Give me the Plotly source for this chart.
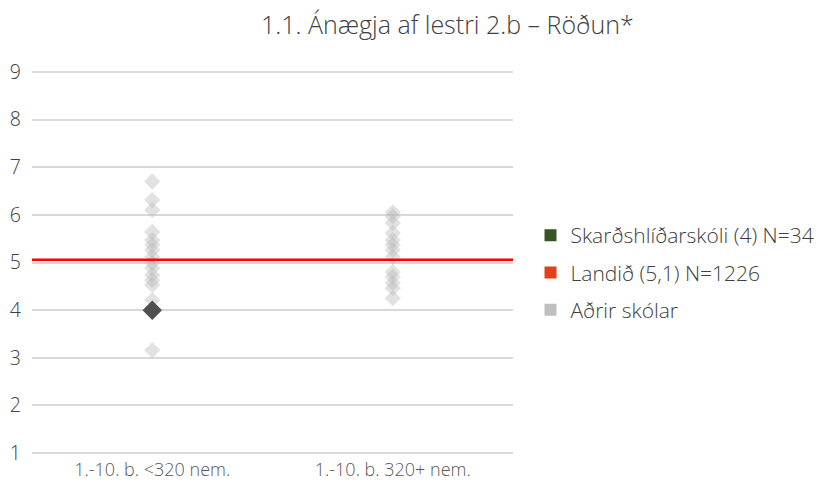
import plotly.graph_objects as go

# ---- data ----
categories = ["1.-10. b. <320 nem.", "1.-10. b. 320+ nem."]

others_small = [6.70, 6.31, 6.10, 5.64, 5.47, 5.37, 5.26, 5.12, 4.99,
                4.88, 4.74, 4.63, 4.53, 4.21, 3.16]
others_large = [6.05, 5.97, 5.83, 5.62, 5.47, 5.37, 5.26, 5.12, 4.80,
                 4.70, 4.57, 4.46, 4.25]

school_category = categories[0]
school_value = 4.0
national_value = 5.06

legend_labels = ["Skarðshlíðarskóli (4) N=34", "Landið (5,1) N=1226", "Aðrir skólar"]
legend_colors = ["#375623", "#e0401a", "#bfbfbf"]

FONT = "'Open Sans', Lato, sans-serif"

fig = go.Figure()

# other schools
fig.add_trace(
    go.Scatter(
        x=[categories[0]] * len(others_small) + [categories[1]] * len(others_large),
        y=others_small + others_large,
        mode="markers",
        marker=dict(symbol="diamond", size=12.5, color="rgba(185,185,185,0.42)", line=dict(width=0)),
        showlegend=False,
        hoverinfo="y",
    )
)

# the school itself
fig.add_trace(
    go.Scatter(
        x=[school_category],
        y=[school_value],
        mode="markers",
        marker=dict(symbol="diamond", size=15, color="#505050", line=dict(width=0)),
        showlegend=False,
    )
)

# legend entries (square swatches)
for i, (label, color) in enumerate(zip(legend_labels, legend_colors)):
    fig.add_trace(
        go.Scatter(
            x=[None],
            y=[None],
            mode="markers",
            name=label,
            legendgroup=f"g{i}",
            marker=dict(symbol="square", size=17, color=color),
        )
    )

# national average line
fig.add_shape(
    type="line", xref="paper", x0=0, x1=1, yref="y", y0=national_value, y1=national_value,
    line=dict(color="#ff0000", width=2.5), layer="above",
)

# the page adds an 8px body margin, so the figure is offset by 8px
fig.update_layout(
    width=829,
    height=474,
    margin=dict(l=24, r=324, t=62, b=27, autoexpand=False),
    paper_bgcolor="white",
    plot_bgcolor="white",
    font=dict(family=FONT, color="#404040", weight=300),
    title=dict(
        text="1.1. Ánægja af lestri 2.b – Röðun*",
        x=0.53, xanchor="center", y=0.963, yanchor="middle",
        font=dict(size=25, color="#404040", weight=300),
    ),
    legend=dict(
        x=1.0364, xanchor="left", y=0.474, yanchor="middle",
        font=dict(size=21, color="#404040", weight=300),
        tracegroupgap=7,
        itemsizing="constant",
    ),
    showlegend=True,
)

fig.update_xaxes(
    type="category",
    categoryorder="array",
    categoryarray=categories,
    range=[-0.5, 1.5],
    showgrid=False,
    showline=False,
    ticks="",
    automargin=False,
    ticklabelstandoff=2,
    tickfont=dict(size=18, color="#595959", weight=300),
)

fig.update_yaxes(
    range=[0.96, 9.04],
    dtick=1,
    tick0=1,
    showgrid=True,
    gridcolor="#d9d9d9",
    gridwidth=1.5,
    zeroline=False,
    ticks="",
    automargin=False,
    ticklabelstandoff=10,
    tickfont=dict(size=19.5, color="#404040", weight=300),
)

fig.write_html("out.html")
